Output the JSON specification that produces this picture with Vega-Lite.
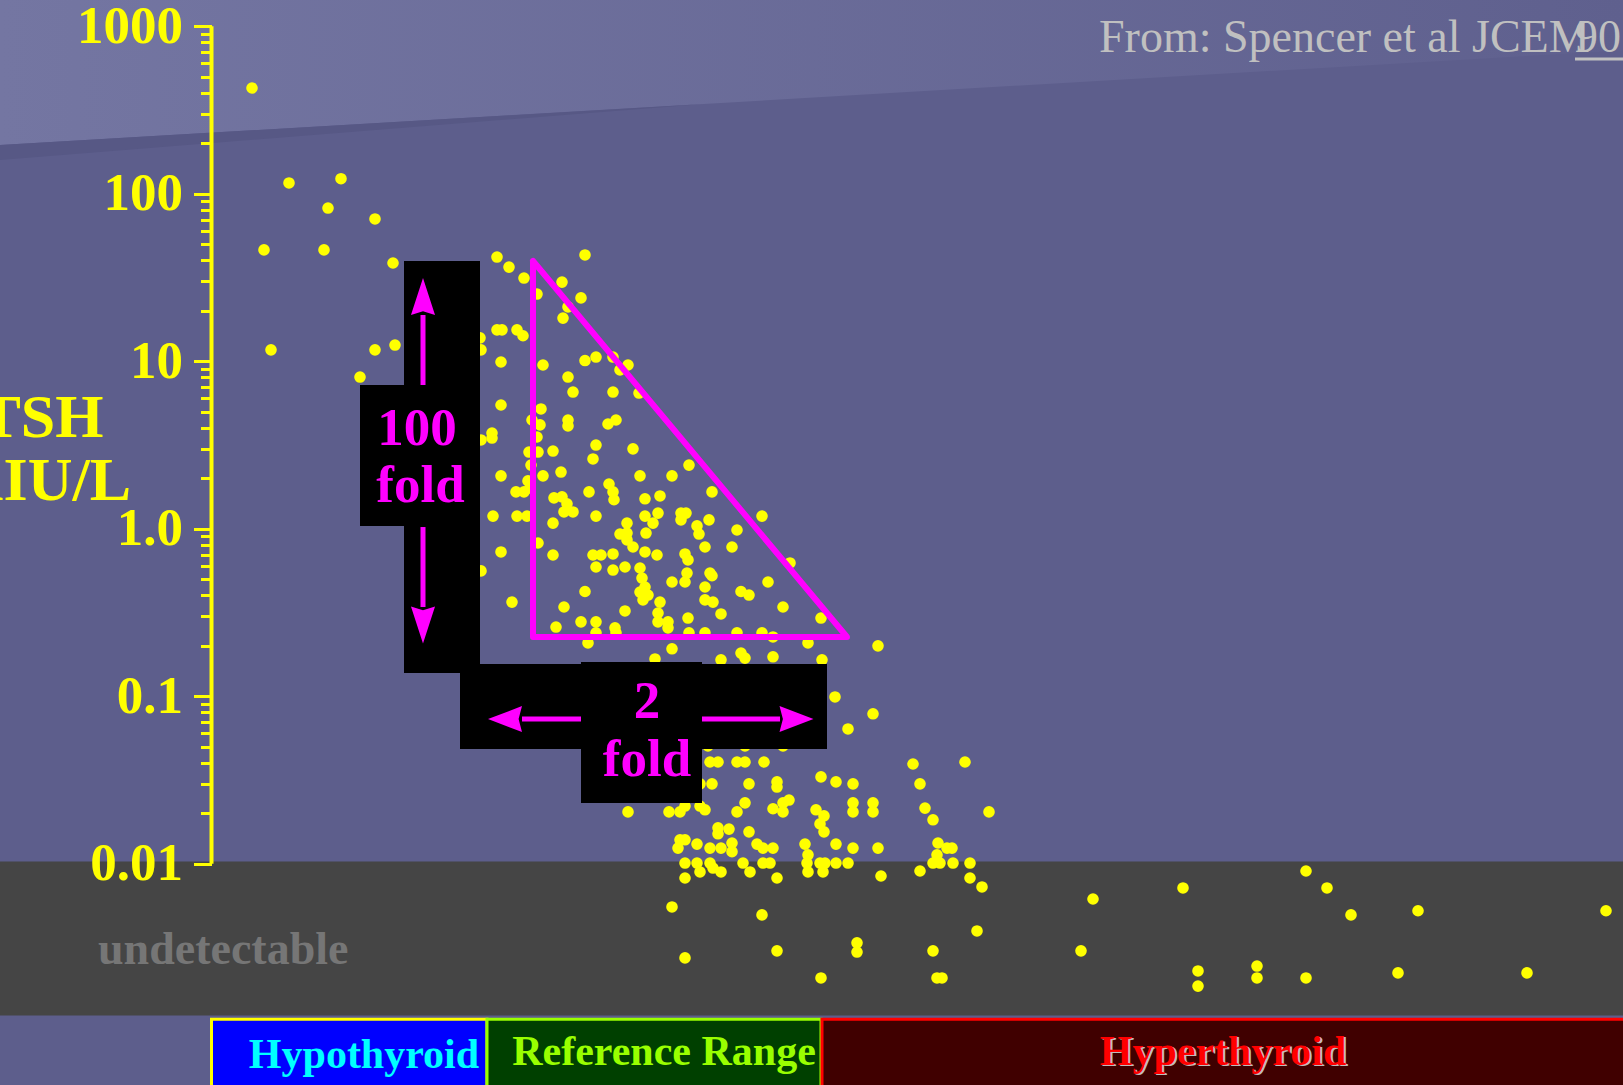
{
"$schema": "https://vega.github.io/schema/vega-lite/v6.json",
"width": 1623, "height": 1085, "autosize": {"type": "none"}, "padding": 0,
"background": "#5d5e8c",
"config": {"view": {"stroke": null}, "font": "Liberation Serif"},
"datasets": {
"points": [
{"ft4":1.62,"tsh":428},{"ft4":3.10,"tsh":116},{"ft4":5.18,"tsh":123},{"ft4":4.66,"tsh":82.2},{"ft4":6.54,"tsh":70.7},{"ft4":2.10,"tsh":46.2},{"ft4":4.50,"tsh":46.2},{"ft4":7.26,"tsh":38.6},{"ft4":2.38,"tsh":11.7},{"ft4":6.54,"tsh":11.7},{"ft4":7.34,"tsh":12.5},{"ft4":5.94,"tsh":8.05},
{"ft4":11.42,"tsh":41.9},{"ft4":11.90,"tsh":36.5},{"ft4":12.50,"tsh":31.4},{"ft4":14.94,"tsh":43.1},{"ft4":13.02,"tsh":25.2},{"ft4":14.02,"tsh":29.7},{"ft4":14.78,"tsh":23.9},{"ft4":14.26,"tsh":21.1},{"ft4":14.06,"tsh":18.1},{"ft4":11.42,"tsh":15.4},{"ft4":11.62,"tsh":15.4},{"ft4":12.22,"tsh":15.4},{"ft4":12.46,"tsh":14.2},{"ft4":10.74,"tsh":13.8},{"ft4":10.78,"tsh":11.7},{"ft4":11.58,"tsh":9.90},{"ft4":13.26,"tsh":9.50},{"ft4":14.94,"tsh":10.1},{"ft4":15.38,"tsh":10.6},{"ft4":16.06,"tsh":10.6},{"ft4":16.66,"tsh":9.50},{"ft4":16.34,"tsh":8.87},{"ft4":14.26,"tsh":8.05},{"ft4":14.46,"tsh":6.55},{"ft4":16.06,"tsh":6.55},{"ft4":17.10,"tsh":6.46},{"ft4":11.58,"tsh":5.48},{"ft4":13.18,"tsh":5.19},{"ft4":12.82,"tsh":4.46},{"ft4":13.14,"tsh":4.17},{"ft4":13.02,"tsh":3.53},{"ft4":14.26,"tsh":4.46},{"ft4":14.26,"tsh":4.11},{"ft4":15.86,"tsh":4.22},{"ft4":16.18,"tsh":4.46},{"ft4":11.22,"tsh":3.73},{"ft4":11.22,"tsh":3.48},{"ft4":10.78,"tsh":3.39},{"ft4":15.38,"tsh":3.16},{"ft4":16.86,"tsh":3.00},{"ft4":12.70,"tsh":2.87},{"ft4":13.06,"tsh":2.87},{"ft4":13.66,"tsh":2.91},{"ft4":15.26,"tsh":2.61},{"ft4":12.78,"tsh":2.40},{"ft4":19.10,"tsh":2.40},{"ft4":11.58,"tsh":2.07},{"ft4":13.26,"tsh":2.07},{"ft4":13.98,"tsh":2.18},{"ft4":17.14,"tsh":2.07},{"ft4":18.42,"tsh":2.07},{"ft4":12.66,"tsh":1.93},{"ft4":12.74,"tsh":1.75},{"ft4":12.18,"tsh":1.66},{"ft4":12.50,"tsh":1.66},{"ft4":15.10,"tsh":1.66},{"ft4":15.90,"tsh":1.85},{"ft4":16.06,"tsh":1.66},{"ft4":16.10,"tsh":1.49},{"ft4":13.70,"tsh":1.53},{"ft4":14.02,"tsh":1.55},{"ft4":14.22,"tsh":1.41},{"ft4":14.10,"tsh":1.26},{"ft4":14.46,"tsh":1.26},{"ft4":17.34,"tsh":1.51},{"ft4":17.94,"tsh":1.57},{"ft4":20.02,"tsh":1.66},{"ft4":11.26,"tsh":1.19},{"ft4":12.22,"tsh":1.19},{"ft4":12.62,"tsh":1.19},{"ft4":13.66,"tsh":1.08},{"ft4":15.38,"tsh":1.19},{"ft4":16.62,"tsh":1.08},{"ft4":16.62,"tsh":0.943},{"ft4":16.34,"tsh":0.930},{"ft4":16.62,"tsh":0.857},{"ft4":17.34,"tsh":1.19},{"ft4":17.86,"tsh":1.24},{"ft4":17.38,"tsh":0.943},{"ft4":17.66,"tsh":1.08},{"ft4":18.78,"tsh":1.24},{"ft4":18.78,"tsh":1.13},{"ft4":18.98,"tsh":1.24},{"ft4":19.42,"tsh":1.04},{"ft4":19.50,"tsh":0.930},{"ft4":19.90,"tsh":1.13},{"ft4":22.02,"tsh":1.19},{"ft4":21.02,"tsh":0.983},{"ft4":20.82,"tsh":0.778},{"ft4":19.74,"tsh":0.778},{"ft4":16.86,"tsh":0.778},{"ft4":13.06,"tsh":0.822},{"ft4":11.58,"tsh":0.727},{"ft4":13.66,"tsh":0.697},{"ft4":15.26,"tsh":0.697},{"ft4":15.58,"tsh":0.697},{"ft4":16.06,"tsh":0.707},{"ft4":17.34,"tsh":0.727},{"ft4":17.82,"tsh":0.697},{"ft4":18.94,"tsh":0.707},{"ft4":19.06,"tsh":0.651},{"ft4":15.38,"tsh":0.591},{"ft4":16.06,"tsh":0.567},{"ft4":16.54,"tsh":0.591},{"ft4":17.14,"tsh":0.583},{"ft4":17.22,"tsh":0.508},{"ft4":17.34,"tsh":0.449},{"ft4":19.02,"tsh":0.544},{"ft4":18.94,"tsh":0.481},{"ft4":18.42,"tsh":0.481},{"ft4":19.94,"tsh":0.544},{"ft4":20.02,"tsh":0.524},{"ft4":19.74,"tsh":0.449},{"ft4":22.26,"tsh":0.481},{"ft4":21.18,"tsh":0.422},{"ft4":21.50,"tsh":0.402},{"ft4":14.94,"tsh":0.422},{"ft4":17.14,"tsh":0.419},{"ft4":17.46,"tsh":0.402},{"ft4":17.26,"tsh":0.376},{"ft4":17.94,"tsh":0.365},{"ft4":19.74,"tsh":0.376},{"ft4":20.06,"tsh":0.365},{"ft4":22.86,"tsh":0.341},{"ft4":10.78,"tsh":0.560},{"ft4":12.02,"tsh":0.365},{"ft4":14.10,"tsh":0.341},{"ft4":16.54,"tsh":0.323},{"ft4":17.86,"tsh":0.314},{"ft4":17.86,"tsh":0.278},{"ft4":18.26,"tsh":0.278},{"ft4":18.26,"tsh":0.256},{"ft4":20.38,"tsh":0.310},{"ft4":19.06,"tsh":0.293},{"ft4":24.38,"tsh":0.293},{"ft4":13.78,"tsh":0.259},{"ft4":14.78,"tsh":0.278},{"ft4":15.38,"tsh":0.278},{"ft4":16.14,"tsh":0.256},{"ft4":16.18,"tsh":0.239},{"ft4":23.14,"tsh":0.625},{"ft4":19.10,"tsh":0.239},{"ft4":19.74,"tsh":0.239},{"ft4":21.02,"tsh":0.239},{"ft4":22.02,"tsh":0.239},{"ft4":22.46,"tsh":0.226},{"ft4":23.86,"tsh":0.208},{"ft4":15.38,"tsh":0.239},{"ft4":15.06,"tsh":0.208},{"ft4":18.42,"tsh":0.192},{"ft4":21.18,"tsh":0.181},{"ft4":21.34,"tsh":0.169},{"ft4":22.46,"tsh":0.172},{"ft4":20.38,"tsh":0.165},{"ft4":24.42,"tsh":0.165},{"ft4":26.66,"tsh":0.200},{"ft4":17.74,"tsh":0.167},
{"ft4":24.94,"tsh":0.0990},{"ft4":26.46,"tsh":0.0786},{"ft4":25.46,"tsh":0.0638},{"ft4":28.06,"tsh":0.0394},{"ft4":30.14,"tsh":0.0405},{"ft4":19.94,"tsh":0.0405},{"ft4":20.26,"tsh":0.0405},{"ft4":21.02,"tsh":0.0405},{"ft4":21.34,"tsh":0.0405},{"ft4":22.10,"tsh":0.0405},{"ft4":19.54,"tsh":0.0300},{"ft4":20.02,"tsh":0.0300},{"ft4":21.50,"tsh":0.0300},{"ft4":22.62,"tsh":0.0308},{"ft4":22.62,"tsh":0.0287},{"ft4":24.38,"tsh":0.0330},{"ft4":24.98,"tsh":0.0308},{"ft4":25.66,"tsh":0.0300},{"ft4":28.34,"tsh":0.0300},{"ft4":16.66,"tsh":0.0204},{"ft4":18.30,"tsh":0.0204},{"ft4":18.74,"tsh":0.0204},{"ft4":18.94,"tsh":0.0221},{"ft4":19.54,"tsh":0.0221},{"ft4":19.74,"tsh":0.0210},{"ft4":21.02,"tsh":0.0204},{"ft4":21.34,"tsh":0.0231},{"ft4":22.46,"tsh":0.0213},{"ft4":22.86,"tsh":0.0204},{"ft4":22.86,"tsh":0.0231},{"ft4":23.10,"tsh":0.0240},{"ft4":24.18,"tsh":0.0210},{"ft4":24.50,"tsh":0.0193},{"ft4":24.34,"tsh":0.0173},{"ft4":24.50,"tsh":0.0155},{"ft4":25.66,"tsh":0.0231},{"ft4":25.66,"tsh":0.0204},{"ft4":26.46,"tsh":0.0231},{"ft4":26.46,"tsh":0.0204},{"ft4":28.54,"tsh":0.0215},{"ft4":28.86,"tsh":0.0183},{"ft4":31.10,"tsh":0.0204},{"ft4":20.26,"tsh":0.0164},{"ft4":20.26,"tsh":0.0151},{"ft4":20.70,"tsh":0.0161},{"ft4":21.50,"tsh":0.0155},{"ft4":18.74,"tsh":0.0139},{"ft4":18.66,"tsh":0.0124},{"ft4":18.94,"tsh":0.0139},{"ft4":19.42,"tsh":0.0131},{"ft4":19.94,"tsh":0.0124},{"ft4":20.38,"tsh":0.0124},{"ft4":20.82,"tsh":0.0133},{"ft4":20.82,"tsh":0.0118},{"ft4":21.82,"tsh":0.0131},{"ft4":22.06,"tsh":0.0124},{"ft4":22.46,"tsh":0.0124},{"ft4":23.74,"tsh":0.0131},{"ft4":24.98,"tsh":0.0131},{"ft4":25.66,"tsh":0.0124},{"ft4":26.66,"tsh":0.0124},{"ft4":29.06,"tsh":0.0133},{"ft4":29.42,"tsh":0.0124},{"ft4":29.62,"tsh":0.0124},{"ft4":29.02,"tsh":0.0113},{"ft4":28.86,"tsh":0.0101},{"ft4":18.94,"tsh":0.0101},{"ft4":19.42,"tsh":0.0101},{"ft4":19.54,"tsh":0.00893},{"ft4":19.94,"tsh":0.0101},{"ft4":20.06,"tsh":0.00943},{"ft4":20.38,"tsh":0.00893},{"ft4":21.26,"tsh":0.0101},{"ft4":21.54,"tsh":0.00893},{"ft4":22.06,"tsh":0.0101},{"ft4":22.34,"tsh":0.0101},{"ft4":23.86,"tsh":0.0113},{"ft4":23.82,"tsh":0.0101},{"ft4":23.86,"tsh":0.00893},{"ft4":24.34,"tsh":0.0101},{"ft4":24.46,"tsh":0.00893},{"ft4":24.54,"tsh":0.0101},{"ft4":24.98,"tsh":0.0101},{"ft4":25.46,"tsh":0.0101},{"ft4":28.34,"tsh":0.00905},{"ft4":29.14,"tsh":0.0101},{"ft4":29.66,"tsh":0.0101},{"ft4":30.34,"tsh":0.0101},{"ft4":18.94,"tsh":0.00822},{"ft4":22.62,"tsh":0.00822},{"ft4":26.78,"tsh":0.00845},{"ft4":30.34,"tsh":0.00822},{"ft4":30.82,"tsh":0.00727},{"ft4":18.42,"tsh":0.00552},{"ft4":22.02,"tsh":0.00495},{"ft4":30.62,"tsh":0.00397},{"ft4":18.94,"tsh":0.00274},{"ft4":22.62,"tsh":0.00302},{"ft4":25.82,"tsh":0.00337},{"ft4":25.82,"tsh":0.00297},{"ft4":28.86,"tsh":0.00302},{"ft4":24.38,"tsh":0.00208},{"ft4":29.02,"tsh":0.00208},{"ft4":29.22,"tsh":0.00208},{"ft4":35.26,"tsh":0.00616},{"ft4":38.86,"tsh":0.00717},{"ft4":43.78,"tsh":0.00905},{"ft4":44.62,"tsh":0.00717},{"ft4":45.58,"tsh":0.00495},{"ft4":48.26,"tsh":0.00524},{"ft4":55.78,"tsh":0.00524},{"ft4":34.78,"tsh":0.00302},{"ft4":39.46,"tsh":0.00229},{"ft4":39.46,"tsh":0.00186},{"ft4":41.82,"tsh":0.00245},{"ft4":41.82,"tsh":0.00208},{"ft4":43.78,"tsh":0.00208},{"ft4":47.46,"tsh":0.00223},{"ft4":52.62,"tsh":0.00223},{"ft4":19.86,"tsh":0.0505},{"ft4":21.34,"tsh":0.0505},{"ft4":22.86,"tsh":0.0505}
]
},
"encoding": {
"x": {"field": "ft4", "type": "quantitative", "scale": {"type": "linear", "domain": [-8.46, 56.46], "nice": false, "zero": false}, "axis": null},
"y": {"field": "tsh", "type": "quantitative", "scale": {"type": "log", "domain": [0.0004776, 1434.8], "nice": false}, "axis": null}
},
"layer": [
{"data": {"values": [{"ft4": -8.46, "tsh": 195.5, "tshb": 1434.8}, {"ft4": 56.46, "tsh": 718.7, "tshb": 1434.8}]},
 "mark": {"type": "area", "fill": {"gradient": "linear", "x1": 0, "y1": 0, "x2": 1, "y2": 0, "stops": [{"offset": 0, "color": "#7476a2"}, {"offset": 1, "color": "#5f608e"}]}, "opacity": 1},
 "encoding": {"y2": {"field": "tshb"}}},
{"data": {"values": [{"ft4": -8.46, "tsh": 159.0, "tshb": 195.5}, {"ft4": 19.54, "tsh": 342.4, "tshb": 342.4}]},
 "mark": {"type": "area", "color": "#575885", "opacity": 1},
 "encoding": {"y2": {"field": "tshb"}}},
{"data": {"values": [{"ft4": -8.46, "ft4b": 56.46, "tsh": 0.0103, "tshb": 0.00124}]},
 "mark": {"type": "rect", "color": "#454545"},
 "encoding": {"x2": {"field": "ft4b"}, "y2": {"field": "tshb"}}},
{"data": {"values": [
  {"ft4": 0, "ft4b": 11.02, "tsh": 0.00118, "tshb": 0.0003, "fc": "#0000ff", "sc": "#ffff00"},
  {"ft4": 11.02, "ft4b": 24.38, "tsh": 0.00118, "tshb": 0.0003, "fc": "#004000", "sc": "#99ff00"},
  {"ft4": 24.42, "ft4b": 58, "tsh": 0.00118, "tshb": 0.0003, "fc": "#400000", "sc": "#ff0000"}]},
 "mark": {"type": "rect", "strokeWidth": 3},
 "encoding": {"x2": {"field": "ft4b"}, "y2": {"field": "tshb"},
  "fill": {"field": "fc", "type": "nominal", "scale": null},
  "stroke": {"field": "sc", "type": "nominal", "scale": null}}},
{"data": {"values": [{"ft4": 40.46, "tsh": 0.000629, "label": "Hyperthyroid"}]},
 "mark": {"type": "text", "font": "Liberation Serif", "fontWeight": "bold", "fontSize": 42, "align": "center", "baseline": "alphabetic", "color": "#bdbdbd", "dx": 2, "dy": 1.5},
 "encoding": {"text": {"field": "label"}}},
{"data": {"values": [
  {"ft4": 6.10, "tsh": 0.000603, "label": "Hypothyroid", "col": "#00ffff"},
  {"ft4": 18.10, "tsh": 0.000629, "label": "Reference Range", "col": "#99ff00"},
  {"ft4": 40.46, "tsh": 0.000629, "label": "Hyperthyroid", "col": "#ff0000"}]},
 "mark": {"type": "text", "font": "Liberation Serif", "fontWeight": "bold", "fontSize": 42, "align": "center", "baseline": "alphabetic"},
 "encoding": {"text": {"field": "label"}, "color": {"field": "col", "type": "nominal", "scale": null}}},
{"data": {"values": [{"ft4": -4.54, "tsh": 0.002521, "label": "undetectable"}]},
 "mark": {"type": "text", "font": "Liberation Serif", "fontWeight": "bold", "fontSize": 46, "align": "left", "baseline": "alphabetic", "color": "#767676"},
 "encoding": {"text": {"field": "label"}}},
{"data": {"values": [{"ft4": 0, "tsh": 0.01, "tshb": 1000}]},
 "mark": {"type": "rule", "color": "#ffff00", "strokeWidth": 4},
 "encoding": {
  "y": {"field": "tsh", "type": "quantitative", "scale": {"type": "log", "domain": [0.0004776, 1434.8], "nice": false},
   "axis": {"orient": "left", "offset": -211.5, "zindex": 1, "values": [0.02,0.03,0.04,0.05,0.06,0.07,0.08,0.09,0.2,0.3,0.4,0.5,0.6,0.7,0.8,0.9,2,3,4,5,6,7,8,9,20,30,40,50,60,70,80,90,200,300,400,500,600,700,800,900],
    "labels": false, "domain": false, "grid": false, "ticks": true, "tickSize": 11, "tickWidth": 3, "tickColor": "#ffff00", "title": null}},
  "y2": {"field": "tshb"}}},
{"data": {"name": "points"},
 "mark": {"type": "circle", "color": "#ffff00", "opacity": 1, "size": 135},
 "encoding": {
  "y": {"field": "tsh", "type": "quantitative", "scale": {"type": "log", "domain": [0.0004776, 1434.8], "nice": false},
   "axis": {"orient": "left", "offset": -211.5, "zindex": 1, "values": [0.01, 0.1, 1, 10, 100, 1000],
    "labelExpr": "datum.value >= 10 ? format(datum.value, 'd') : datum.value >= 0.99 ? '1.0' : datum.value >= 0.099 ? '0.1' : '0.01'",
    "domain": false, "grid": false, "ticks": true, "tickSize": 18, "tickWidth": 3, "tickColor": "#ffff00",
    "labelColor": "#ffff00", "labelFont": "Liberation Serif", "labelFontWeight": "bold", "labelFontSize": 53, "labelPadding": 11,
    "labelFlush": false, "labelOverlap": false, "labelBound": false,
    "title": ["TSH", "mIU/L"], "titleAngle": 0, "titleColor": "#ffff00", "titleFont": "Liberation Serif", "titleFontWeight": "bold", "titleFontSize": 62,
    "titleX": -170.5, "titleY": 436, "titleAlign": "center", "titleBaseline": "alphabetic", "titleLineHeight": 63}}}},
{"data": {"values": [
  {"ft4": 7.70, "ft4b": 10.74, "tsh": 39.7, "tshb": 0.1377},
  {"ft4": 5.94, "ft4b": 10.74, "tsh": 7.215, "tshb": 1.038},
  {"ft4": 9.94, "ft4b": 24.62, "tsh": 0.1558, "tshb": 0.04843},
  {"ft4": 14.78, "ft4b": 19.62, "tsh": 0.1601, "tshb": 0.02305}]},
 "mark": {"type": "rect", "color": "#000000"},
 "encoding": {"x2": {"field": "ft4b"}, "y2": {"field": "tshb"}}},
{"data": {"values": [
  {"ft4": 12.86, "tsh": 39.7, "o": 0}, {"ft4": 12.86, "tsh": 0.2258, "o": 1},
  {"ft4": 25.42, "tsh": 0.2258, "o": 2}, {"ft4": 12.86, "tsh": 39.7, "o": 3}]},
 "mark": {"type": "line", "color": "#ff00ff", "strokeWidth": 6, "strokeJoin": "round", "strokeCap": "round"},
 "encoding": {"order": {"field": "o", "type": "quantitative"}}},
{"data": {"values": [
  {"ft4": 8.46, "ft4b": 8.46, "tsh": 18.88, "tshb": 7.215},
  {"ft4": 8.46, "ft4b": 8.46, "tsh": 1.024, "tshb": 0.341},
  {"ft4": 12.42, "ft4b": 14.78, "tsh": 0.0731, "tshb": 0.0731},
  {"ft4": 19.62, "ft4b": 22.74, "tsh": 0.0731, "tshb": 0.0731}]},
 "mark": {"type": "rule", "color": "#ff00ff", "strokeWidth": 5},
 "encoding": {"x2": {"field": "ft4b"}, "y2": {"field": "tshb"}}},
{"data": {"values": [
  {"ft4": 8.46, "tsh": 24.36, "shp": "M0,-1L0.65,1L0,0.8L-0.65,1Z", "sz": 1369},
  {"ft4": 8.46, "tsh": 0.2663, "shp": "M0,1L0.65,-1L0,-0.8L-0.65,-1Z", "sz": 1369},
  {"ft4": 11.74, "tsh": 0.0731, "shp": "M-1,0L1,-0.76L0.8,0L1,0.76Z", "sz": 1156},
  {"ft4": 23.40, "tsh": 0.0731, "shp": "M1,0L-1,-0.76L-0.8,0L-1,0.76Z", "sz": 1156}]},
 "mark": {"type": "point", "filled": true, "color": "#ff00ff", "opacity": 1, "strokeWidth": 0},
 "encoding": {"shape": {"field": "shp", "type": "nominal", "scale": null}, "size": {"field": "sz", "type": "quantitative", "scale": null}}},
{"data": {"values": [
  {"ft4": 8.22, "tsh": 3.162, "label": "100"},
  {"ft4": 8.36, "tsh": 1.444, "label": "fold"},
  {"ft4": 17.42, "tsh": 0.0742, "label": "2"},
  {"ft4": 17.42, "tsh": 0.0334, "label": "fold"}]},
 "mark": {"type": "text", "font": "Liberation Serif", "fontWeight": "bold", "fontSize": 53, "align": "center", "baseline": "alphabetic", "color": "#ff00ff"},
 "encoding": {"text": {"field": "label"}}},
{"data": {"values": [{"ft4": 35.5, "tsh": 702.2, "label": "From: Spencer et al JCEM"}, {"ft4": 54.54, "tsh": 702.2, "label": "90"}]},
 "mark": {"type": "text", "font": "Liberation Serif", "fontSize": 46, "align": "left", "baseline": "alphabetic", "color": "#c0c0c0"},
 "encoding": {"text": {"field": "label"}}},
{"data": {"values": [{"ft4": 54.54, "ft4b": 56.46, "tsh": 637.6}]},
 "mark": {"type": "rule", "color": "#c0c0c0", "strokeWidth": 3},
 "encoding": {"x2": {"field": "ft4b"}}}
],
"resolve": {"axis": {"y": "independent"}}
}
